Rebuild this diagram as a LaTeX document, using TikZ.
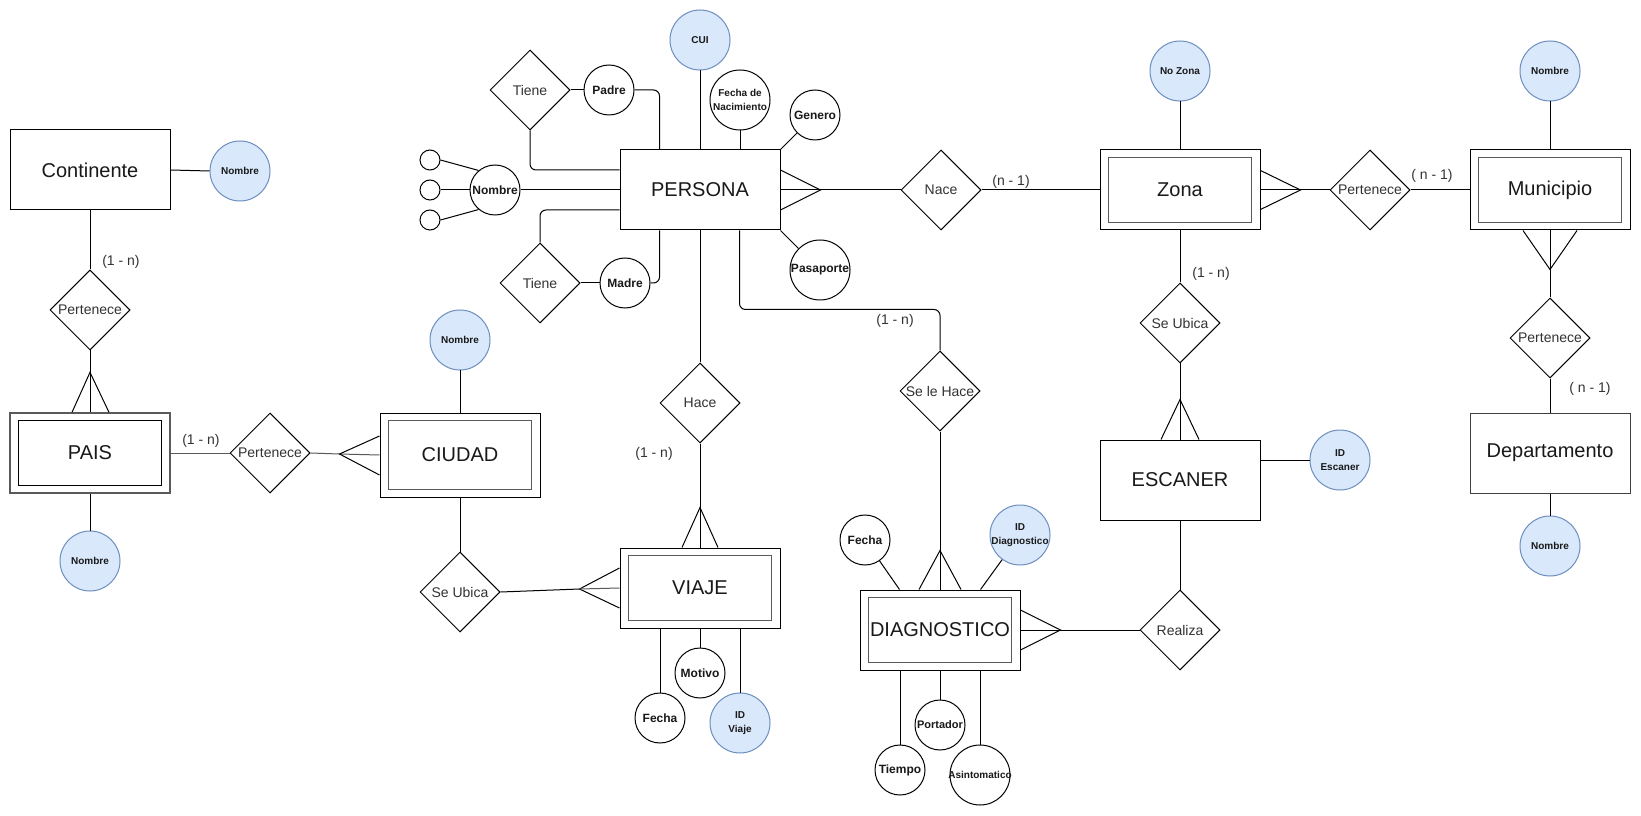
\documentclass[tikz,border=0pt]{standalone}
\usepackage{fontspec}
\setmainfont{Liberation Sans}
\usetikzlibrary{shapes.geometric,calc}
\definecolor{keyfill}{HTML}{DAE8FC}
\definecolor{keyline}{HTML}{6C8EBF}
\definecolor{txtgray}{HTML}{333333}
\definecolor{innergray}{HTML}{5A5A5A}
\begin{document}
\begin{tikzpicture}[x=0.75pt,y=-0.75pt,
  ln/.style={draw=black, line width=0.75pt},
  lngray/.style={draw=black!65, line width=0.75pt},
  ent/.style={draw=black, line width=0.75pt, minimum width=120pt, minimum height=60pt, inner sep=0pt, font=\fontsize{15}{18}\selectfont, text=black!90},
  innerbox/.style={draw=innergray, line width=1.1pt},
  rel/.style={diamond, draw=black, line width=0.75pt, minimum width=60pt, minimum height=60pt, inner sep=0pt},
  reltxt/.style={font=\fontsize{10.5}{12}\selectfont, text=txtgray, inner sep=0pt},
  att/.style={circle, draw=black, line width=0.75pt, minimum size=37.5pt, inner sep=0pt},
  attbig/.style={att, minimum size=45pt},
  dot/.style={circle, draw=black, line width=0.75pt, minimum size=15pt, inner sep=0pt},
  keyatt/.style={circle, draw=keyline, fill=keyfill, line width=0.75pt, minimum size=45pt, inner sep=0pt},
  atxt/.style={font=\bfseries\fontsize{9}{10.5}\selectfont, text=black!90, inner sep=0pt, align=center},
  stxt/.style={font=\bfseries\fontsize{7.5}{10.5}\selectfont, text=black!90, inner sep=0pt, align=center},
  ktxt/.style={font=\bfseries\fontsize{7.5}{10.5}\selectfont, text=black!90, inner sep=0pt, align=center},
  card/.style={font=\fontsize{10.5}{12}\selectfont, text=txtgray, inner sep=0pt},
  rc/.style={rounded corners=4.5pt}
]
\fill[white] (0,0) rectangle (1641,816);
\useasboundingbox (0,0) rectangle (1641,816);

% ---------- PERSONA ----------
\node[ent] (persona) at (700,190) {PERSONA};
\node[keyatt, label={[ktxt]center:CUI}] (cui) at (700,40) {};
\node[att, label={[atxt]center:Padre}] (padre) at (609,90) {};
\node[attbig, label={[stxt]center:{Fecha de\\Nacimiento}}] (fnac) at (740,100) {};
\node[att, label={[atxt]center:Genero}] (genero) at (815,115) {};
\node[attbig, label={[atxt]center:Pasaporte}] (pasap) at (820,270) {};
\node[att, label={[atxt]center:Nombre}] (nombrep) at (495,190) {};
\node[dot] (s1) at (430,160) {};
\node[dot] (s2) at (430,190) {};
\node[dot] (s3) at (430,220) {};
\node[rel, label={[reltxt]center:Tiene}] (tiene1) at (530,90) {};
\node[rel, label={[reltxt]center:Tiene}] (tiene2) at (540,283) {};
\node[att, label={[atxt]center:Madre}] (madre) at (625,283) {};
\node[rel, label={[reltxt]center:Nace}] (nace) at (941,190) {};
\node[rel, label={[reltxt]center:Hace}] (hace) at (700,403) {};
\node[rel, label={[reltxt]center:Se le Hace}] (selehace) at (940,391) {};

% ---------- VIAJE ----------
\node[ent] (viaje) at (700,588) {VIAJE};
\node[att, label={[atxt]center:Fecha}] (fechav) at (660,718) {};
\node[att, label={[atxt]center:Motivo}] (motivo) at (700,673) {};
\node[keyatt, label={[ktxt]center:{ID\\Viaje}}] (idviaje) at (740,723) {};

% ---------- DIAGNOSTICO ----------
\node[ent] (diag) at (940,630) {DIAGNOSTICO};
\node[att, label={[atxt]center:Fecha}] (fechad) at (865,540) {};
\node[keyatt, label={[ktxt]center:{ID\\Diagnostico}}] (iddiag) at (1020,535) {};
\node[att, label={[atxt]center:Tiempo}] (tiempo) at (900,770) {};
\node[att, label={[atxt, font=\bfseries\fontsize{8.25}{10}\selectfont]center:Portador}] (portador) at (940,725) {};
\node[attbig, label={[stxt]center:Asintomatico}] (asint) at (980,775) {};
\node[rel, label={[reltxt]center:Realiza}] (realiza) at (1180,630) {};

% ---------- ESCANER / ZONA / MUNICIPIO ----------
\node[ent] (escaner) at (1180,480) {ESCANER};
\node[keyatt, label={[ktxt]center:{ID\\Escaner}}] (idesc) at (1340,460) {};
\node[rel, label={[reltxt]center:Se Ubica}] (seubz) at (1180,323) {};
\node[ent] (zona) at (1180,190) {Zona};
\node[keyatt, label={[ktxt]center:No Zona}] (nozona) at (1180,71) {};
\node[rel, label={[reltxt]center:Pertenece}] (pertz) at (1370,190) {};
\node[ent] (muni) at (1550,190) {Municipio};
\node[keyatt, label={[ktxt]center:Nombre}] (nombrem) at (1550,71) {};
\node[rel, label={[reltxt]center:Pertenece}] (pertm) at (1550,338) {};
\node[ent, draw=black!75] (depto) at (1550,453) {Departamento};
\node[keyatt, label={[ktxt]center:Nombre}] (nombred) at (1550,546) {};

% ---------- CONTINENTE / PAIS / CIUDAD ----------
\node[ent] (cont) at (90,170) {Continente};
\node[keyatt, label={[ktxt]center:Nombre}] (nombrec) at (240,171) {};
\node[rel, label={[reltxt]center:Pertenece}] (pertc) at (90,310) {};
\node[ent, draw=innergray, line width=1pt] (pais) at (90,453) {PAIS};
\node[keyatt, label={[ktxt]center:Nombre}] (nombrepais) at (90,561) {};
\node[rel, label={[reltxt]center:Pertenece}] (pertp) at (270,453) {};
\node[ent, minimum height=63pt] (ciudad) at (460,455) {CIUDAD};
\node[keyatt, label={[ktxt]center:Nombre}] (nombreci) at (460,340) {};
\node[rel, label={[reltxt]center:Se Ubica}] (seubc) at (460,592) {};

% ---------- inner rectangles of weak entities ----------
\foreach \e in {viaje,diag,zona,muni,ciudad}{
  \draw[innerbox] ($(\e.north west)+(9,8)$) rectangle ($(\e.south east)+(-9,-8)$);
}
\draw[ln] ($(pais.north west)+(9,8)$) rectangle ($(pais.south east)+(-9,-8)$);

% ---------- cardinalities ----------
\node[card] (c1) at (121,262) {(1 - n)};
\node[card] (c2) at (201,441) {(1 - n)};
\node[card] (c3) at (654,454) {(1 - n)};
\node[card] (c4) at (895,321) {(1 - n)};
\node[card] (c5) at (1011,182) {(n - 1)};
\node[card] (c6) at (1211,274) {(1 - n)};
\node[card] (c7) at (1432,176) {( n - 1)};
\node[card] (c8) at (1590,389) {( n - 1)};

% ---------- connectors: PERSONA ----------
\draw[ln] (cui) -- (persona.north);
\draw[ln, rc] (padre.east) -| ($(persona.north west)+(40,0)$);
\draw[ln] (fnac.south) -- (fnac.south |- persona.north);
\draw[ln] (persona.north east) -- (genero);
\draw[ln] (persona.south east) -- (pasap);
\draw[ln] (nombrep.east) -- (persona.west);
\draw[ln] (s1.east) -- (nombrep.130);
\draw[ln] (s2.east) -- (nombrep.west);
\draw[ln] (s3.east) -- (nombrep.230);
\draw[ln] (tiene1.east) -- (padre.west);
\draw[ln, rc] (tiene1.south) |- ($(persona.west)+(0,-20)$);
\draw[ln, rc] (tiene2.north) |- ($(persona.west)+(0,20)$);
\draw[ln] (tiene2.east) -- (madre.west);
\draw[ln, rc] (madre.east) -| ($(persona.south west)+(40,0)$);
\coordinate (pcrow) at ($(persona.east)+(40,0)$);
\draw[ln] ($(persona.east)+(0,-20)$) -- (pcrow) -- ($(persona.east)+(0,20)$);
\draw[ln] (persona.east) -- (nace.west);
\draw[ln] (nace.east) -- (zona.west);
\draw[ln] (persona.south) -- (hace.north);
\draw[ln] (hace.south) -- (viaje.north);
\coordinate (vcrow) at ($(viaje.north)+(0,-40)$);
\draw[ln] ($(viaje.north)+(-18,0)$) -- (vcrow) -- ($(viaje.north)+(18,0)$);
\coordinate (shc) at ($(selehace.north)+(0,-41)$);
\draw[ln, rc] ($(persona.south west)+(120,0)$) |- (shc) -- (selehace.north);
\draw[ln] (selehace.south) -- (diag.north);
\coordinate (dcrow) at ($(diag.north)+(0,-39)$);
\draw[ln] ($(diag.north)+(-21,0)$) -- (dcrow) -- ($(diag.north)+(21,0)$);

% ---------- VIAJE attributes ----------
\draw[ln] (fechav.north) -- (fechav.north |- viaje.south);
\draw[ln] (motivo.north) -- (viaje.south);
\draw[ln] (idviaje.north) -- (idviaje.north |- viaje.south);

% ---------- DIAGNOSTICO ----------
\draw[ln] (fechad) -- ($(diag.north west)+(40,0)$);
\draw[ln] (iddiag) -- ($(diag.north east)+(-40,0)$);
\draw[ln] (tiempo.north) -- (tiempo.north |- diag.south);
\draw[ln] (portador.north) -- (diag.south);
\draw[ln] (asint.north) -- (asint.north |- diag.south);
\coordinate (drcrow) at ($(diag.east)+(40,0)$);
\draw[ln] ($(diag.east)+(0,-20)$) -- (drcrow) -- ($(diag.east)+(0,20)$);
\draw[ln] (diag.east) -- (realiza.west);

% ---------- ESCANER / ZONA / MUNICIPIO ----------
\draw[ln] (escaner.south) -- (realiza.north);
\draw[ln] ($(escaner.east)+(0,-20)$) -- (idesc.west);
\draw[ln] (seubz.south) -- (escaner.north);
\coordinate (ecrow) at ($(escaner.north)+(0,-40)$);
\draw[ln] ($(escaner.north)+(-19,0)$) -- (ecrow) -- ($(escaner.north)+(19,0)$);
\draw[ln] (zona.south) -- (seubz.north);
\draw[ln] (nozona) -- (zona.north);
\coordinate (zcrow) at ($(zona.east)+(40,0)$);
\draw[ln] ($(zona.east)+(0,-19.5)$) -- (zcrow) -- ($(zona.east)+(0,19.5)$);
\draw[ln] (zona.east) -- (pertz.west);
\draw[ln] (pertz.east) -- (muni.west);
\draw[ln] (nombrem) -- (muni.north);
\coordinate (mcrow) at ($(muni.south)+(0,39)$);
\draw[ln] ($(muni.south)+(-27,0)$) -- (mcrow) -- ($(muni.south)+(27,0)$);
\draw[ln] (muni.south) -- (pertm.north);
\draw[ln] (pertm.south) -- (depto.north);
\draw[ln] (depto.south) -- (nombred);

% ---------- CONTINENTE / PAIS / CIUDAD ----------
\draw[ln] (cont.east) -- (nombrec.west);
\draw[ln] (cont.south) -- (pertc.north);
\draw[ln] (pertc.south) -- (pais.north);
\coordinate (pacrow) at ($(pais.north)+(0,-40)$);
\draw[ln] ($(pais.north)+(-18,0)$) -- (pacrow) -- ($(pais.north)+(19,0)$);
\draw[ln] (pais.south) -- (nombrepais);
\draw[lngray] (pais.east) -- (pertp.west);
\coordinate (ccrow) at ($(ciudad.west)+(-40,-1)$);
\draw[lngray] (pertp.east) -- (ccrow) -- (ciudad.west);
\draw[ln] ($(ciudad.west)+(0,-19)$) -- (ccrow) -- ($(ciudad.west)+(0,20)$);
\draw[ln] (nombreci) -- (ciudad.north);
\draw[ln] (ciudad.south) -- (seubc.north);
\coordinate (vlcrow) at ($(viaje.west)+(-40,1)$);
\draw[ln] (seubc.east) -- (vlcrow);
\draw[ln] ($(viaje.west)+(0,-20)$) -- (vlcrow) -- ($(viaje.west)+(0,20)$);
\draw[lngray] (vlcrow) -- (viaje.west);
\end{tikzpicture}
\end{document}
